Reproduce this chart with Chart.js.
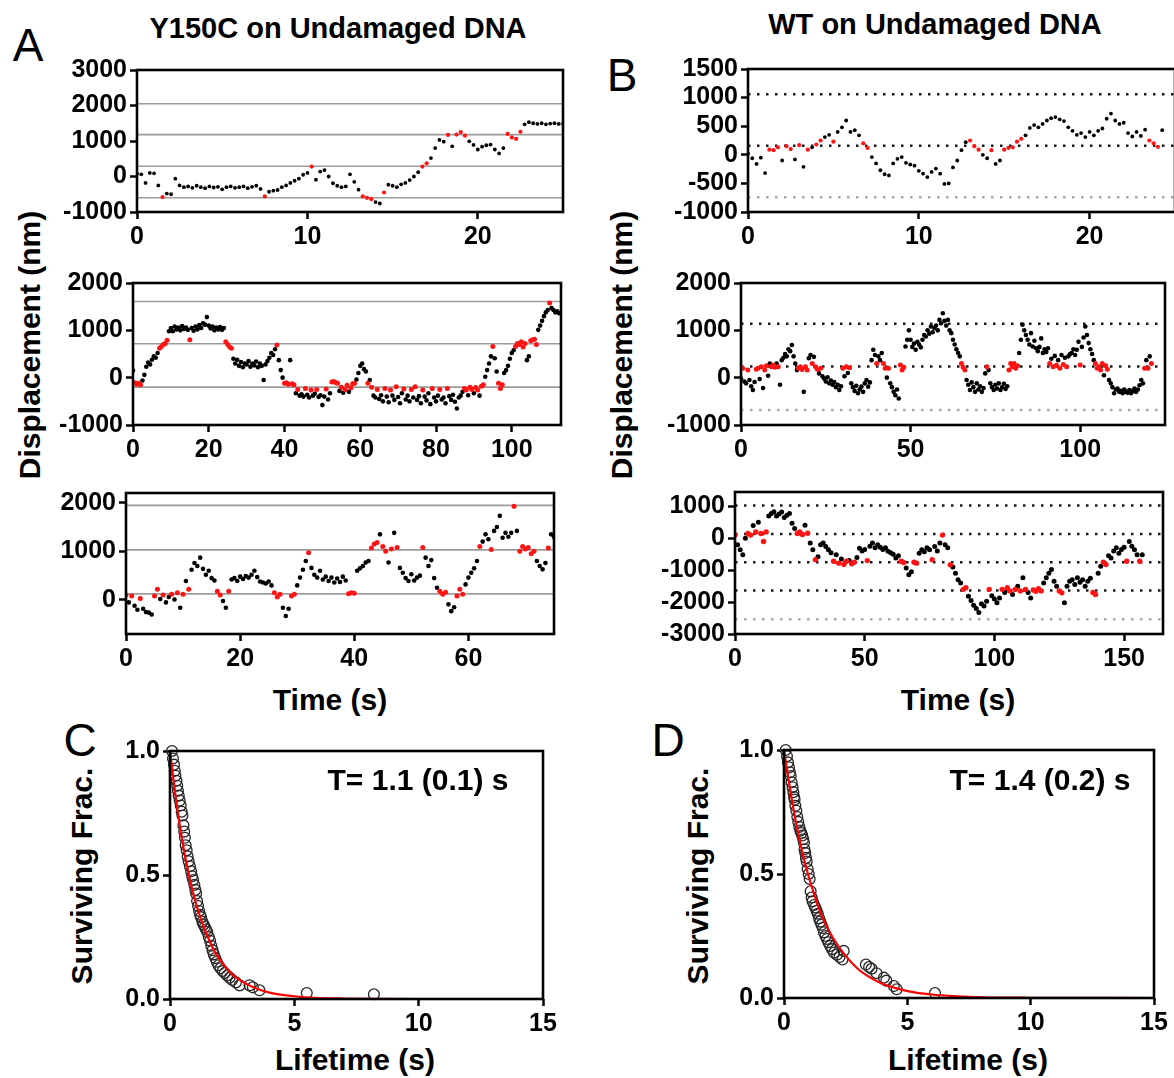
<!DOCTYPE html>
<html>
<head>
<meta charset="utf-8">
<script src="https://cdn.jsdelivr.net/npm/chart.js@4.4.1/dist/chart.umd.min.js"></script>
<style>
  body { margin: 0; background: #fff; width: 1174px; height: 1078px; overflow: hidden; position: relative;
         font-family: "Liberation Sans", Arial, Helvetica, sans-serif; }
  canvas { position: absolute; }
  .t { position: absolute; font-weight: bold; white-space: nowrap; color: #000; line-height: 1;
       transform: translate(-50%, -50%); }
  .v { transform: translate(-50%, -50%) rotate(-90deg); }
  .p { position: absolute; font-size: 46px; line-height: 1; transform: translate(-50%, -50%); }
</style>
</head>
<body>
<div class="t" style="left:338px;top:28px;font-size:29px">Y150C on Undamaged DNA</div>
<div class="t" style="left:935px;top:24px;font-size:29px">WT on Undamaged DNA</div>
<div class="p" style="left:28px;top:45px">A</div>
<div class="p" style="left:622px;top:75px">B</div>
<div class="p" style="left:80px;top:740px">C</div>
<div class="p" style="left:668px;top:740px">D</div>
<div class="t v" style="left:30px;top:345px;font-size:30px">Displacement (nm)</div>
<div class="t v" style="left:622px;top:345px;font-size:30px">Displacement (nm)</div>
<div class="t" style="left:330px;top:700px;font-size:30px">Time (s)</div>
<div class="t" style="left:958px;top:700px;font-size:30px">Time (s)</div>
<div class="t v" style="left:82px;top:876px;font-size:30px">Surviving Frac.</div>
<div class="t v" style="left:698px;top:876px;font-size:30px">Surviving Frac.</div>
<div class="t" style="left:355px;top:1060px;font-size:30px">Lifetime (s)</div>
<div class="t" style="left:968px;top:1060px;font-size:30px">Lifetime (s)</div>

<canvas id="a1"></canvas>
<canvas id="a2"></canvas>
<canvas id="a3"></canvas>
<canvas id="b1"></canvas>
<canvas id="b2"></canvas>
<canvas id="b3"></canvas>
<canvas id="c"></canvas>
<canvas id="d"></canvas>
<div class="t" style="left:418px;top:780px;font-size:30px">T= 1.1 (0.1) s</div>
<div class="t" style="left:1040px;top:780px;font-size:30px">T= 1.4 (0.2) s</div>

<script>
const FONT = '"Liberation Sans", Arial, Helvetica, sans-serif';
Chart.defaults.font.family = FONT;

// ---------- A: Y150C traces (displacement, nm) ----------
const a1Dt = 0.25;
const a1Y = [80, 60, -180, 100, 90, -250, -580, -480, -500, -60,
  -250, -300, -280, -320, -260, -300, -330, -280, -310, -290,
  -360, -300, -280, -320, -300, -280, -330, -290, -260, -350,
  -560, -430, -400, -380, -300, -250, -180, -120, -60, 50,
  100, 280, -90, 140, 180, 0, -190, -260, -300, -280,
  60, -150, -370, -560, -600, -640, -720, -760, -450, -230,
  -260, -300, -220, -180, -100, 0, 120, 280, 370, 520,
  800, 1030, 980, 1170, 850, 1180, 1250, 1150, 990, 890,
  760, 840, 880, 900, 760, 650, 800, 1200, 1100, 1060,
  1260, 1470, 1530, 1500, 1480, 1500, 1470, 1490, 1500, 1480,
  1490];
const a1Red = [1.5, 7.5, 10.25, 13.25, 13.5, 13.75, 14.5, 16.75, 17, 18.25, 18.75, 19, 19.25, 21.75, 22, 22.25, 22.5];
const a1Levels = [2050, 1180, 290, -600];

const a2Dt = 0.5;
const a2Y = [150, -110, -140, -120, -150, -60, 60, 230, 320, 280,
  380, 450, 420, 520, 620, 660, 700, 720, 790, 980,
  1050, 980, 1080, 1020, 1060, 1000, 1090, 1030, 1060, 1010,
  800, 1050, 990, 1080, 1020, 1110, 1050, 1150, 1120, 1280,
  1100, 1040, 1080, 1000, 1060, 1020, 1070, 1010, 1050, 760,
  700, 650, 620, 400, 300, 380, 250, 330, 220, 300,
  280, 350, 230, 300, 260, 340, 220, 300, 250, -50,
  280, 350, 420, 520, 480, 600, 690, 370, 160, 0,
  -120, -110, -140, 370, -130, -150, -330, -250, -380, -350,
  -400, -230, -360, -420, -260, -380, -340, -250, -410, -370,
  -580, -400, -240, -460, -330, -90, -80, -100, -120, -280,
  -200, -320, -250, -160, -300, -220, -130, -120, -40, 100,
  250, 300, 180, 130, -120, -50, -200, -380, -420, -250,
  -450, -370, -500, -230, -400, -520, -260, -380, -470, -190,
  -410, -540, -330, -240, -460, -380, -500, -250, -420, -190,
  -470, -390, -540, -260, -400, -480, -330, -560, -230, -420,
  -500, -380, -250, -460, -420, -540, -230, -390, -470, -360,
  -510, -650, -420, -380, -300, -230, -260, -370, -200, -250,
  -330, -210, -260, -380, -180, -150, 20, 160, 300, 450,
  660, 410, 130, -120, -230, -150, 100, 160, 250, 400,
  520, 580, 660, 720, 700, 760, 650, 720, 370, 450,
  780, 800, 810, 700, 1010, 1100, 1200, 1300, 1380, 1430,
  1580, 1470, 1430, 1380, 1400, 1360, 1370];
const a2Red = [0.5, 1, 1.5, 2, 7, 7.5, 8, 8.5, 9, 15, 24.5, 25, 25.5, 26, 38,
  40, 40.5, 41, 42, 42.5, 43.5, 45.5, 47, 48.5, 51, 52.5, 53, 53.5, 54,
  55, 56, 56.5, 57.5, 58, 58.5, 62, 63, 64.5, 66.5, 68, 69.5, 71.5, 73.5, 74.5,
  76.5, 79, 81, 83, 87.5, 88, 89, 89.5, 90.5, 91, 92, 92.5, 95, 96.5, 97, 97.5,
  101, 101.5, 102, 102.5, 103, 103.5, 105, 105.5, 106, 106.5, 110];
const a2Levels = [1610, 715, -200];

const a3Dt = 0.5;
const a3Y = [100, -50, 80, -120, -200, 30, -180, -250, -260, -300,
  80, 220, 20, 100, -50, 60, 120, 10, 150, -160,
  120, 390, 220, 620, 760, 700, 870, 640, 520, 600,
  450, 400, 180, 100, -20, -160, 180, 420, 450, 390,
  480, 430, 490, 460, 520, 600, 470, 380, 360, 340,
  380, 300, 150, 60, 120, -160, -330, -180, 80, 120,
  300, 460, 620, 800, 970, 660, 520, 460, 600, 420,
  480, 390, 460, 360, 440, 370, 480, 400, 130, 150,
  140, 600, 650, 700, 770, 800, 1070, 1150, 1180, 1350,
  1100, 1000, 770, 1050, 1380, 1080, 660, 560, 450, 390,
  530, 400, 460, 500, 1080, 870, 700, 820, 450, 250,
  180, 120, 160, -90, -230, -150, 80, 220, 120, 320,
  460, 560, 650, 800, 1100, 1200, 1350, 1250, 1040, 1420,
  1500, 1730, 1280, 1380, 1300, 1380, 1930, 1420, 1000, 1100,
  1050, 1080, 950, 1000, 800, 700, 630, 760, 1070, 1350,
  1300];
const a3Red = [0, 1, 2.5, 5, 5.5, 6.5, 8, 9, 10, 11, 16, 16.5, 18, 26, 26.5, 27, 29, 29.5, 32,
  39, 39.5, 40, 43, 43.5, 44, 45, 45.5, 46.5, 47.5, 52, 55, 55.5, 56, 58, 58.5, 59, 62, 64,
  68, 69, 69.5, 70, 70.5, 71, 71.5, 74];
const a3Levels = [1945, 1030, 125];

// ---------- B: WT traces (displacement, nm) ----------
const b1Dt = 0.25;
const b1Y = [20, -60, -160, -50, -320, 90, 80, 130, -100, 150,
  100, -80, 170, -210, 90, 130, 180, 250, 310, 350,
  230, 400, 480, 600, 400, 430, 340, 200, 120, -40,
  -150, -270, -340, -360, -150, -70, -40, -140, -170, -190,
  -280, -330, -390, -300, -240, -330, -510, -500, -220, -100,
  80, 220, 250, 150, 90, 0, -60, 80, -160, -100,
  90, 120, 130, 230, 280, 340, 470, 520, 480, 540,
  600, 640, 660, 620, 590, 480, 420, 350, 380, 310,
  400, 340, 420, 460, 630, 720, 600, 540, 560, 380,
  320, 400, 330, 440, 250, 200, 140, 430];
const b1Red = [1.25, 1.5, 1.75, 2.25, 2.5, 3, 3.5, 4, 4.25, 5, 6.75, 7, 13, 13.25, 13.5, 14.25,
  15, 15.25, 15.5, 15.75, 16, 23.5, 23.75, 24];
const b1Levels = [1060, 160, -740];

const b2Dt = 0.5;
const b2Y = [-20, 200, -80, -120, 160, -50, -180, -260, -90, 180,
  200, -30, 230, -220, 160, 250, 40, 300, 230, 270,
  220, 300, 230, -150, 370, 420, 500, 450, 600, 560,
  690, 450, 300, 160, 200, 230, 170, -300, 230, 160,
  410, 480, 300, 440, 230, 180, 90, 200, 30, -20,
  -80, 10, -120, -60, -150, -90, -200, -150, -260, -180,
  200, 30, 230, 100, 210, -120, -200, -280, -170, -330,
  -250, -190, -300, -120, -50, -190, -100, 370, 590, 480,
  300, 450, 370, 520, 300, 200, 0, 200, -120, -200,
  -300, -370, -250, -440, 270, 160, 220, 660, 800, 1000,
  800, 650, 720, 590, 760, 700, 640, 800, 900, 870,
  1000, 930, 1080, 960, 1050, 1100, 1000, 1220, 1150, 1360,
  1200, 1100, 1220, 1000, 940, 800, 700, 600, 520, 450,
  300, 220, 160, -50, -150, -260, -100, -200, -300, -120,
  -250, -180, -300, -220, 90, 230, 160, -120, -200, -260,
  -150, -230, -120, -260, -200, -130, -240, -180, 160, 300,
  230, 300, 200, 250, 520, 800, 1120, 1000, 900, 800,
  700, 940, 660, 780, 620, 560, 650, 830, 520, 600,
  540, 620, 300, 400, 230, 460, 260, 370, 200, 480,
  280, 420, 230, 450, 500, 520, 600, 480, 590, 760,
  270, 650, 850, 1080, 900, 730, 600, 500, 370, 300,
  200, 230, 160, 300, 50, 250, 180, -50, -120, -200,
  -330, -250, -230, -300, -280, -330, -250, -300, -320, -260,
  -330, -280, -230, -300, -250, -160, -50, -120, 200, 370,
  200, 450, 300];
const b2Red = [0.5, 2, 4.5, 5, 6, 7, 7.5, 9, 9.5, 10, 11, 17, 17.5, 18, 19, 19.5, 21, 22, 22.5, 23.5,
  30, 31, 32, 40, 42, 42.5, 43.5, 47, 47.5, 48, 65, 65.5, 66, 72.5, 79, 79.5, 80, 80.5, 81, 81.5,
  91, 92, 93, 94, 95, 96, 100, 104.5, 105, 105.5, 106, 106.5, 107.5, 108, 119, 120, 121];
const b2Levels = [1140, 235, -685];

const b3Dt = 1;
const b3Y = [100, -200, -360, -520, 0, 150, 100, 400, 200, 500,
  150, -100, 200, 700, 780, 830, 700, 760, 820, 650,
  720, 780, 470, 310, 150, 200, 120, 410, 160, -150,
  -360, -670, -580, -200, -150, -260, -360, -450, -720, -520,
  -780, -650, -820, -720, -700, -800, -750, -600, -310, -400,
  -350, -700, -250, -150, -300, -200, -280, -350, -300, -410,
  -450, -500, -620, -550, -720, -760, -930, -1140, -1050, -750,
  -780, -470, -360, -420, -300, -360, -670, -260, -400, -150,
  100, -200, -300, -830, -900, -1100, -1300, -1400, -1600, -1550,
  -1820, -1950, -2100, -2200, -2330, -2050, -2120, -1970, -1600, -1800,
  -1900, -2020, -1870, -1600, -1700, -1550, -1650, -1760, -1600, -1500,
  -1650, -1240, -1600, -1700, -1870, -1620, -1660, -1580, -1650, -1400,
  -1240, -1100, -980, -1350, -1500, -1650, -1710, -2020, -1500, -1350,
  -1300, -1450, -1240, -1380, -1300, -1500, -1350, -1250, -1700, -1760,
  -1100, -880, -750, -820, -550, -620, -400, -300, -470, -350,
  -280, -720, -100, -250, -360, -520, -720, -520];
const b3Red = [0, 5, 6, 8, 10, 11, 12, 24, 25, 26, 28, 31, 38, 40, 42, 43, 45, 46, 51, 64, 65, 69, 70,
  76, 80, 83, 88, 89, 98, 103, 105, 106, 108, 110, 112, 115, 116, 117, 118, 125, 126, 138, 139,
  142, 143, 151, 156];
const b3Levels = [1030, 135, -755, -1640, -2540];

// ---------- C / D: surviving fraction vs lifetime ----------
const cLife = [0.08, 0.12, 0.16, 0.19, 0.22, 0.26, 0.29, 0.32, 0.35, 0.39, 0.43, 0.47, 0.5, 0.54, 0.57,
  0.6, 0.63, 0.67, 0.71, 0.75, 0.8, 0.85, 0.89, 0.93, 0.98, 1.02, 1.05, 1.09, 1.13, 1.17, 1.21, 1.25,
  1.3, 1.35, 1.4, 1.45, 1.5, 1.56, 1.61, 1.66, 1.71, 1.76, 1.82, 1.88, 1.95, 2.03, 2.12, 2.2, 2.3,
  2.4, 2.5, 2.65, 2.8, 3.2, 3.33, 3.6, 5.5, 8.2];
const cFrac = [1.0, 0.97, 0.945, 0.92, 0.9, 0.88, 0.86, 0.84, 0.82, 0.8, 0.78, 0.755, 0.74, 0.7, 0.675,
  0.65, 0.62, 0.6, 0.575, 0.555, 0.535, 0.515, 0.495, 0.48, 0.46, 0.44, 0.425, 0.395, 0.375, 0.355,
  0.34, 0.33, 0.312, 0.3, 0.29, 0.28, 0.27, 0.25, 0.235, 0.215, 0.197, 0.18, 0.165, 0.15, 0.136,
  0.124, 0.113, 0.105, 0.095, 0.086, 0.077, 0.067, 0.055, 0.055, 0.047, 0.035, 0.024, 0.019];
const cFitT = [0, 0.25, 0.5, 0.75, 1, 1.25, 1.5, 1.75, 2, 2.5, 3, 3.5, 4, 5, 6, 7, 8, 10, 15];
const cFitF = [1.0, 0.8, 0.635, 0.505, 0.4, 0.32, 0.255, 0.2, 0.16, 0.1, 0.065, 0.041, 0.026, 0.011,
  0.004, 0.002, 0.001, 0, 0];

const dLife = [0.07, 0.12, 0.16, 0.2, 0.24, 0.27, 0.31, 0.35, 0.38, 0.41, 0.43, 0.46, 0.5, 0.54, 0.58,
  0.62, 0.66, 0.7, 0.74, 0.78, 0.81, 0.83, 0.86, 0.89, 0.92, 0.96, 1.0, 1.04, 1.08, 1.12, 1.16, 1.22,
  1.27, 1.32, 1.37, 1.42, 1.47, 1.52, 1.57, 1.62, 1.68, 1.74, 1.8, 1.87, 1.95, 2.03, 2.15, 2.25, 2.37,
  2.42, 3.32, 3.45, 3.55, 3.75, 4.05, 4.15, 4.45, 4.57, 6.12];
const dFrac = [1.0, 0.975, 0.95, 0.93, 0.91, 0.895, 0.87, 0.85, 0.83, 0.81, 0.8, 0.775, 0.755, 0.73, 0.71,
  0.69, 0.675, 0.665, 0.655, 0.64, 0.625, 0.6, 0.585, 0.565, 0.55, 0.52, 0.5, 0.48, 0.43, 0.405, 0.39,
  0.375, 0.365, 0.352, 0.34, 0.322, 0.308, 0.295, 0.282, 0.265, 0.25, 0.238, 0.225, 0.21, 0.197,
  0.183, 0.175, 0.165, 0.155, 0.19, 0.135, 0.125, 0.118, 0.1, 0.082, 0.07, 0.048, 0.035, 0.02];
const dFitT = [0, 0.25, 0.5, 0.75, 1, 1.25, 1.5, 1.75, 2, 2.5, 3, 3.5, 4, 5, 6, 7, 8, 10, 15];
const dFitF = [1.0, 0.84, 0.7, 0.585, 0.49, 0.41, 0.34, 0.285, 0.24, 0.17, 0.117, 0.082, 0.057, 0.028,
  0.014, 0.007, 0.003, 0.001, 0];

// ---------- drawing ----------
const PT = 18, PR = 24, YW = 80, XH = 40;

const frame = {
  id: 'frame',
  afterDatasetsDraw(chart) {
    const a = chart.chartArea, ctx = chart.ctx;
    ctx.save();
    ctx.strokeStyle = '#000';
    ctx.lineWidth = 2.6;
    ctx.strokeRect(a.left, a.top, a.right - a.left, a.bottom - a.top);
    ctx.restore();
  }
};

function place(id, box) {
  const cv = document.getElementById(id);
  cv.width = box[2] - box[0] + YW + PR;
  cv.height = box[3] - box[1] + PT + XH;
  cv.style.left = (box[0] - YW) + 'px';
  cv.style.top = (box[1] - PT) + 'px';
  return cv;
}

function axis(min, max, ticks, fit, fmt) {
  return {
    type: 'linear', min: min, max: max,
    afterBuildTicks: s => { s.ticks = ticks.map(v => ({ value: v })); },
    afterFit: fit,
    border: { display: false },
    grid: { drawOnChartArea: false, color: '#000', tickLength: 7, tickWidth: 2.5 },
    ticks: { color: '#000', font: { size: 25, weight: 'bold' }, padding: 3,
             autoSkip: false, minRotation: 0, maxRotation: 0, callback: fmt }
  };
}

function baseOptions(xmin, xmax, xt, ymin, ymax, yt, yfmt) {
  return {
    responsive: false, animation: false, devicePixelRatio: 1,
    layout: { padding: { top: PT, right: PR, left: 0, bottom: 0 } },
    plugins: { legend: { display: false }, tooltip: { enabled: false } },
    scales: {
      x: axis(xmin, xmax, xt, s => { s.height = XH; }, v => String(v)),
      y: axis(ymin, ymax, yt, s => { s.width = YW; }, yfmt)
    }
  };
}

function trace(id, box, dt, ys, redT, levels, dotted, xmax, xt, ymin, ymax, yt, rad) {
  const blk = [], red = [];
  ys.forEach((v, i) => {
    const t = i * dt;
    (redT.some(r => Math.abs(r - t) < dt / 2) ? red : blk).push({ x: t, y: v });
  });
  const lines = levels.map((L, i) => ({
    data: [{ x: 0, y: L }, { x: xmax, y: L }],
    showLine: true, pointRadius: 0, order: 3,
    borderColor: dotted ? (i === levels.length - 1 ? '#a8a8a8' : '#1a1a1a') : '#9c9c9c',
    borderWidth: dotted ? 2.5 : 1.6,
    borderDash: dotted ? [2.5, 6.5] : []
  }));
  new Chart(place(id, box), {
    type: 'scatter',
    data: { datasets: [
      { data: red, pointRadius: rad + 0.2, pointBackgroundColor: '#ff1414', pointBorderWidth: 0, order: 0 },
      { data: blk, pointRadius: rad, pointBackgroundColor: '#000', pointBorderWidth: 0, order: 1 },
      ...lines
    ] },
    options: baseOptions(0, xmax, xt, ymin, ymax, yt, v => String(v)),
    plugins: [frame]
  });
}

function survival(id, box, life, frac, fitT, fitF) {
  new Chart(place(id, box), {
    type: 'scatter',
    data: { datasets: [
      { data: fitT.map((t, i) => ({ x: t, y: fitF[i] })), showLine: true, pointRadius: 0,
        borderColor: '#ff0000', borderWidth: 2.2, cubicInterpolationMode: 'monotone', order: 0 },
      { data: life.map((t, i) => ({ x: t, y: frac[i] })), pointRadius: 5.4,
        pointBackgroundColor: 'rgba(0,0,0,0)', pointBorderColor: '#262626', pointBorderWidth: 1.3,
        order: 1, clip: false }
    ] },
    options: baseOptions(0, 15, [0, 5, 10, 15], 0, 1, [0, 0.5, 1], v => v.toFixed(1)),
    plugins: [frame]
  });
}

trace('a1', [137, 70, 563, 212], a1Dt, a1Y, a1Red, a1Levels, false, 25, [0, 10, 20], -1000, 3000, [-1000, 0, 1000, 2000, 3000], 1.9);
trace('a2', [133, 283, 561, 425], a2Dt, a2Y, a2Red, a2Levels, false, 113, [0, 20, 40, 60, 80, 100], -1000, 2000, [-1000, 0, 1000, 2000], 2.3);
trace('a3', [126, 493, 554, 634], a3Dt, a3Y, a3Red, a3Levels, false, 75, [0, 20, 40, 60], -700, 2200, [0, 1000, 2000], 2.3);
trace('b1', [748, 69, 1175, 212], b1Dt, b1Y, b1Red, b1Levels, true, 25, [0, 10, 20], -1000, 1500, [-1000, -500, 0, 500, 1000, 1500], 1.9);
trace('b2', [741, 283, 1165, 425], b2Dt, b2Y, b2Red, b2Levels, true, 125, [0, 50, 100], -1000, 2000, [-1000, 0, 1000, 2000], 2.3);
trace('b3', [735, 492, 1163, 634], b3Dt, b3Y, b3Red, b3Levels, true, 165, [0, 50, 100, 150], -3000, 1450, [-3000, -2000, -1000, 0, 1000], 2.5);
survival('c', [170, 751, 543, 999], cLife, cFrac, cFitT, cFitF);
survival('d', [784, 750, 1154, 998], dLife, dFrac, dFitT, dFitF);
</script>
</body>
</html>
